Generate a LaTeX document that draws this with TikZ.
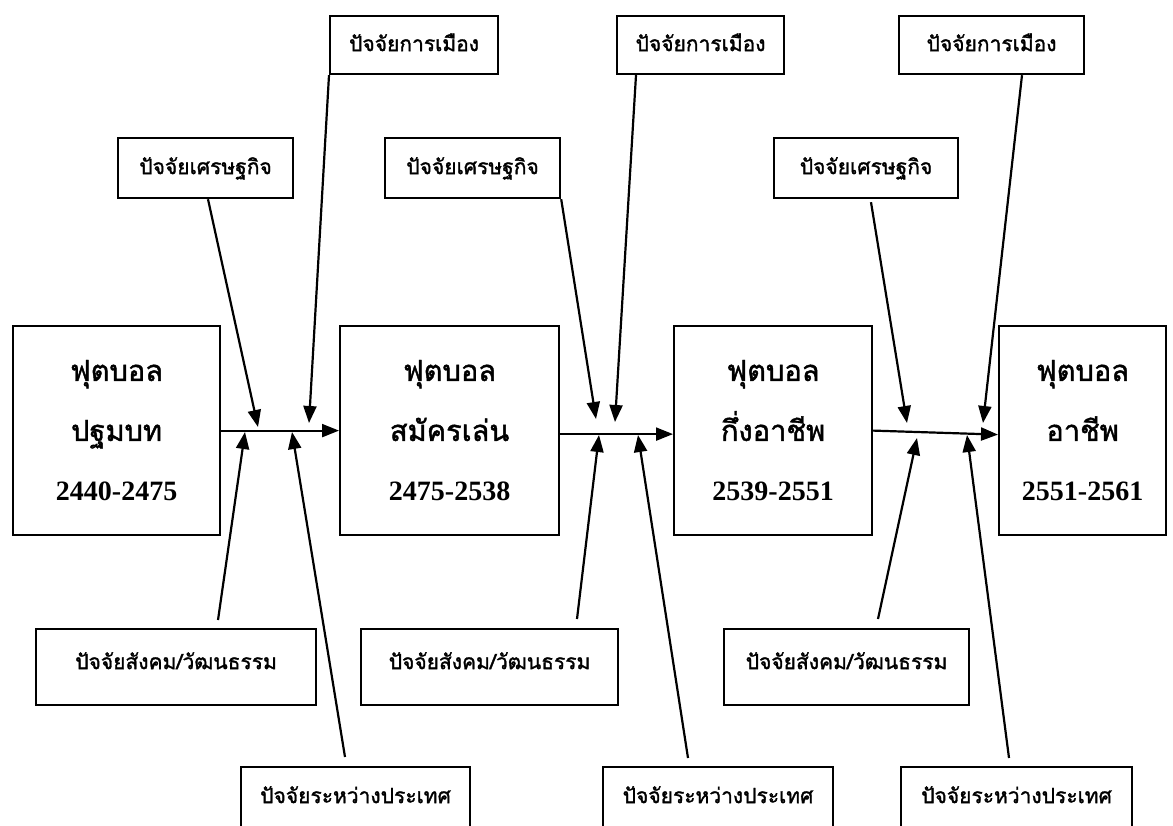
\documentclass[tikz,border=0pt]{standalone}
\usepackage{fontspec}
\setmainfont{Liberation Serif}
\newfontfamily\thaifont[Script=Thai,AutoFakeBold=1.5]{Loma}
\usetikzlibrary{arrows.meta}
\begin{document}
\begin{tikzpicture}[x=1pt,y=-1pt,
  box/.style={draw, line width=2.2pt, inner sep=0pt, anchor=north west},
  mainbox/.style={box, align=center, font=\thaifont\bfseries\fontsize{29}{60}\selectfont},
  factor/.style={box, font=\thaifont\bfseries\fontsize{21}{24}\selectfont},
  arr/.style={line width=2.2pt, -{Triangle[length=17pt,width=13pt]}}]
\clip (0,0) rectangle (1173,825);
\fill[white] (0,0) rectangle (1173,825);
% main boxes
\node[mainbox, minimum width=207pt, minimum height=209pt] (m1) at (12,325) {ฟุตบอล\\ปฐมบท\\{\rmfamily\fontsize{28}{60}\selectfont 2440-2475}};
\node[mainbox, minimum width=219pt, minimum height=209pt] (m2) at (339,325) {ฟุตบอล\\สมัครเล่น\\{\rmfamily\fontsize{28}{60}\selectfont 2475-2538}};
\node[mainbox, minimum width=198pt, minimum height=209pt] (m3) at (673,325) {ฟุตบอล\\กึ่งอาชีพ\\{\rmfamily\fontsize{28}{60}\selectfont 2539-2551}};
\node[mainbox, minimum width=167pt, minimum height=209pt] (m4) at (998,325) {ฟุตบอล\\อาชีพ\\{\rmfamily\fontsize{28}{60}\selectfont 2551-2561}};
% politics
\node[factor, minimum width=168pt, text height=35pt, text depth=23pt] (p1) at (329,15) {ปัจจัยการเมือง};
\node[factor, minimum width=167pt, text height=35pt, text depth=23pt] (p2) at (616,15) {ปัจจัยการเมือง};
\node[factor, minimum width=185pt, text height=35pt, text depth=23pt] (p3) at (898,15) {ปัจจัยการเมือง};
% economy
\node[factor, minimum width=175pt, text height=36pt, text depth=24pt] (e1) at (117,137) {ปัจจัยเศรษฐกิจ};
\node[factor, minimum width=175pt, text height=36pt, text depth=24pt] (e2) at (384,137) {ปัจจัยเศรษฐกิจ};
\node[factor, minimum width=184pt, text height=36pt, text depth=24pt] (e3) at (773,137) {ปัจจัยเศรษฐกิจ};
% social
\node[factor, minimum width=280pt, text height=40pt, text depth=36pt] (s1) at (35,628) {ปัจจัยสังคม/วัฒนธรรม};
\node[factor, minimum width=257pt, text height=40pt, text depth=36pt] (s2) at (360,628) {ปัจจัยสังคม/วัฒนธรรม};
\node[factor, minimum width=245pt, text height=40pt, text depth=36pt] (s3) at (723,628) {ปัจจัยสังคม/วัฒนธรรม};
% international
\node[factor, minimum width=229pt, text height=36pt, text depth=60pt] (i1) at (240,766) {ปัจจัยระหว่างประเทศ};
\node[factor, minimum width=230pt, text height=36pt, text depth=60pt] (i2) at (602,766) {ปัจจัยระหว่างประเทศ};
\node[factor, minimum width=231pt, text height=36pt, text depth=60pt] (i3) at (900,766) {ปัจจัยระหว่างประเทศ};
% tips
\coordinate (te1) at (258,427);
\coordinate (tp1) at (309,423);
\coordinate (ts1) at (245,432);
\coordinate (ti1) at (292,432);
\coordinate (te2) at (596,419);
\coordinate (tp2) at (615,422);
\coordinate (ts2) at (599,435);
\coordinate (ti2) at (638,435);
\coordinate (te3) at (907,423);
\coordinate (tp3) at (983,423);
\coordinate (ts3) at (917,438);
\coordinate (ti3) at (967,435);
% main arrows
\draw[arr] (m1.east) -- (m2.west);
\draw[arr] ([yshift=-3.5pt]m2.east) -- ([yshift=-3.5pt]m3.west);
\draw[arr] (m3.east) -- ([yshift=-4pt]m4.west);
% factor arrows
\draw[arr] ([xshift=91pt]e1.south west) -- (te1);
\draw[arr] (p1.south west) -- (tp1);
\draw[arr] ([xshift=183pt,yshift=8pt]s1.north west) -- (ts1);
\draw[arr] ([xshift=105pt,yshift=9pt]i1.north west) -- (ti1);
\draw[arr] (e2.south east) -- (te2);
\draw[arr] ([xshift=20pt]p2.south west) -- (tp2);
\draw[arr] ([xshift=217pt,yshift=9pt]s2.north west) -- (ts2);
\draw[arr] ([xshift=86pt,yshift=8pt]i2.north west) -- (ti2);
\draw[arr] ([xshift=98pt,yshift=-3pt]e3.south west) -- (te3);
\draw[arr] ([xshift=124pt]p3.south west) -- (tp3);
\draw[arr] ([xshift=155pt,yshift=9pt]s3.north west) -- (ts3);
\draw[arr] ([xshift=109pt,yshift=8pt]i3.north west) -- (ti3);
\end{tikzpicture}
\end{document}
